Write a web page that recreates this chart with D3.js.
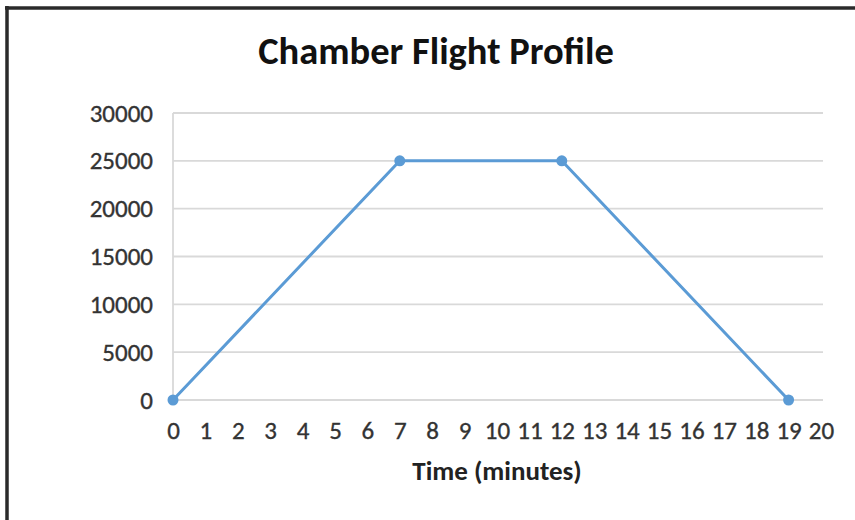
<!DOCTYPE html>
<html>
<head>
<meta charset="utf-8">
<script src="https://cdn.jsdelivr.net/npm/d3@7"></script>
<style>
  html, body { margin: 0; padding: 0; background: #fff; }
  svg { display: block; }
</style>
</head>
<body>
<svg id="chart" width="855" height="520"></svg>
<script>
// Flight profile: time in minutes vs. altitude
const timeMinutes = [0, 7, 12, 19];
const altitude = [0, 25000, 25000, 0];
const xTicks = d3.range(0, 21, 1);
const yTicks = [0, 5000, 10000, 15000, 20000, 25000, 30000];
const chartTitle = "Chamber Flight Profile";
const xTitle = "Time (minutes)";

const svg = d3.select("#chart");
const W = 855, H = 520;
const plot = { left: 173, right: 821, top: 113, bottom: 400 };

// frame lines
svg.append("rect").attr("x", 0).attr("y", 0).attr("width", W).attr("height", H).attr("fill", "#fff");
svg.append("line").attr("x1", 5).attr("x2", W).attr("y1", 8).attr("y2", 8)
  .attr("stroke", "#2b2b2b").attr("stroke-width", 3.5);
svg.append("line").attr("x1", 7).attr("x2", 7).attr("y1", 6).attr("y2", H)
  .attr("stroke", "#2b2b2b").attr("stroke-width", 3.5);

const x = d3.scaleLinear().domain([0, 20]).range([plot.left, plot.right]);
const y = d3.scaleLinear().domain([0, 30000]).range([plot.bottom, plot.top]);

const font = "Calibri, Carlito, 'Open Sans', 'Liberation Sans', sans-serif";

// gridlines
svg.append("g")
  .selectAll("line").data(yTicks).join("line")
  .attr("x1", plot.left).attr("x2", plot.right + 2)
  .attr("y1", d => y(d)).attr("y2", d => y(d))
  .attr("stroke", "#d9d9d9").attr("stroke-width", 1.8);

// vertical axis line
svg.append("line").attr("x1", plot.left).attr("x2", plot.left)
  .attr("y1", plot.top).attr("y2", plot.bottom)
  .attr("stroke", "#d9d9d9").attr("stroke-width", 1.8);

// y axis labels
const yAxis = d3.axisLeft(y).tickValues(yTicks).tickSize(0).tickPadding(20).tickFormat(d3.format("d"));
const gy = svg.append("g").attr("transform", `translate(${plot.left},0)`).call(yAxis);
gy.select(".domain").remove();
gy.selectAll("text").attr("font-family", font).attr("font-size", 25).attr("fill", "#333")
  .attr("stroke", "#333").attr("stroke-width", 0.35)
  .attr("dy", "0.32em");

// x axis labels
const xAxis = d3.axisBottom(x).tickValues(xTicks).tickSize(0).tickPadding(28).tickFormat(d3.format("d"));
const gx = svg.append("g").attr("transform", `translate(0,${plot.bottom})`).call(xAxis);
gx.select(".domain").remove();
gx.selectAll("text").attr("font-family", font).attr("font-size", 25).attr("fill", "#333")
  .attr("stroke", "#333").attr("stroke-width", 0.35)
  .attr("dy", "0.45em");

// data line
const pts = timeMinutes.map((t, i) => [t, altitude[i]]);
svg.append("path").datum(pts)
  .attr("fill", "none").attr("stroke", "#5b9bd5").attr("stroke-width", 3)
  .attr("stroke-linejoin", "round")
  .attr("d", d3.line().x(d => x(d[0])).y(d => y(d[1])));

svg.append("g").selectAll("circle").data(pts).join("circle")
  .attr("cx", d => x(d[0])).attr("cy", d => y(d[1])).attr("r", 5.5)
  .attr("fill", "#5b9bd5");

// titles
svg.append("text").attr("x", 436).attr("y", 64).attr("text-anchor", "middle")
  .attr("font-family", font).attr("font-size", 38.5).attr("font-weight", "bold")
  .attr("fill", "#111").text(chartTitle);

svg.append("text").attr("x", (plot.left + plot.right) / 2).attr("y", 480).attr("text-anchor", "middle")
  .attr("font-family", font).attr("font-size", 27).attr("font-weight", "bold")
  .attr("fill", "#222").text(xTitle);
</script>
</body>
</html>
